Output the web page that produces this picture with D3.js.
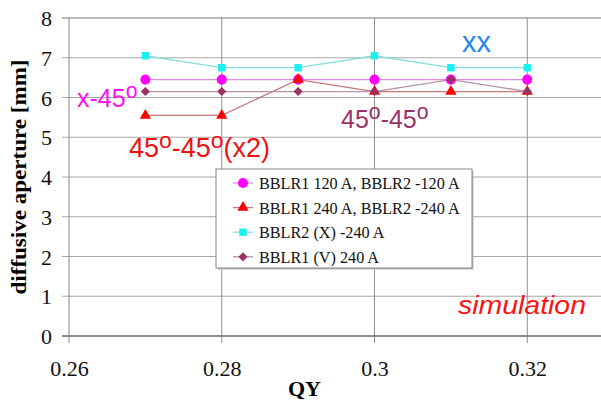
<!DOCTYPE html>
<html><head><meta charset="utf-8">
<script src="https://cdn.jsdelivr.net/npm/d3@7"></script>
<style>body{margin:0;background:#fff}svg{display:block}</style>
</head><body>
<svg id="c" width="601" height="403"></svg>
<script>
const qy = [0.27, 0.28, 0.29, 0.30, 0.31, 0.32];
const s120 = [6.45, 6.45, 6.45, 6.45, 6.45, 6.45];
const s240 = [5.55, 5.55, 6.45, 6.15, 6.15, 6.15];
const sX = [7.05, 6.75, 6.75, 7.05, 6.75, 6.75];
const sV = [6.15, 6.15, 6.15, 6.15, 6.45, 6.15];
const seriesNames = ["BBLR1 120 A, BBLR2 -120 A", "BBLR1 240 A, BBLR2 -240 A", "BBLR2 (X) -240 A", "BBLR1 (V) 240 A"];
const xTicks = [0.26, 0.28, 0.30, 0.32];
const xTickLabels = ["0.26", "0.28", "0.3", "0.32"];
const yTicks = [0, 1, 2, 3, 4, 5, 6, 7, 8];

const svg = d3.select("#c");
const x = d3.scaleLinear().domain([0.26, 0.34]).range([69, 680]);
const y = d3.scaleLinear().domain([0, 8]).range([336, 18]);

// grid
const g = svg.append("g");
g.selectAll(".hg").data(yTicks.filter(d => d > 0)).join("line")
  .attr("x1", 62).attr("x2", 601).attr("y1", d => y(d)).attr("y2", d => y(d))
  .attr("stroke", d => d === 8 ? "#777" : "#a8a8a8").attr("stroke-width", 1.2);
g.selectAll(".vg").data(xTicks).join("line")
  .attr("x1", d => x(d)).attr("x2", d => x(d)).attr("y1", 18).attr("y2", 343)
  .attr("stroke", d => d === 0.26 ? "#888" : "#909090").attr("stroke-width", 1);
g.append("line").attr("x1", 62).attr("x2", 601).attr("y1", y(0)).attr("y2", y(0))
  .attr("stroke", "#666").attr("stroke-width", 1.6);

// axes labels
const yAxis = d3.axisLeft(y).tickValues(yTicks).tickSize(0).tickPadding(17).tickFormat(d3.format("d"));
const ya = svg.append("g").attr("transform", "translate(69,0)").call(yAxis);
ya.attr("font-family", null).attr("font-size", null);
ya.select(".domain").remove();
ya.selectAll("text").style("font-family", "'Liberation Serif', serif").style("font-size", "22px").attr("fill", "#111").attr("dy", "0.35em");
const xAxis = d3.axisBottom(x).tickValues(xTicks).tickSize(0).tickPadding(24).tickFormat((d, i) => xTickLabels[i]);
const xa = svg.append("g").attr("transform", "translate(0,336)").call(xAxis);
xa.attr("font-family", null).attr("font-size", null);
xa.select(".domain").remove();
xa.selectAll("text").style("font-family", "'Liberation Serif', serif").style("font-size", "22px").attr("fill", "#111");

svg.append("text").attr("transform", "translate(26,177) rotate(-90)").attr("text-anchor", "middle")
  .style("font-family", "'Liberation Serif', serif").attr("font-weight", "bold").attr("font-size", 22)
  .attr("textLength", 235).attr("lengthAdjust", "spacingAndGlyphs")
  .text("diffusive aperture [mm]");
svg.append("text").attr("x", 288).attr("y", 396)
  .style("font-family", "'Liberation Serif', serif").attr("font-weight", "bold").attr("font-size", 22).text("QY");

// series
const diamond = {draw(ctx, size) { const r = Math.sqrt(size / 2); ctx.moveTo(0, -r); ctx.lineTo(r, 0); ctx.lineTo(0, r); ctx.lineTo(-r, 0); ctx.closePath(); }};
const series = [
  {v: s120, color: "#ff00ff", line: "#e08ae0", shape: d3.symbolCircle, size: 80},
  {v: s240, color: "#ff0000", line: "#c87878", shape: d3.symbolTriangle, size: 55},
  {v: sX, color: "#19f0f0", line: "#86dede", shape: d3.symbolSquare, size: 55},
  {v: sV, color: "#993366", line: "#b892a6", shape: diamond, size: 42}
];
const lineGen = d3.line().x((d, i) => x(qy[i])).y(d => y(d));
series.forEach(s => {
  svg.append("path").attr("d", lineGen(s.v)).attr("fill", "none").attr("stroke", s.line).attr("stroke-width", 1.3);
});
series.forEach(s => {
  svg.append("g").selectAll("path").data(s.v).join("path")
    .attr("transform", (d, i) => `translate(${x(qy[i])},${y(d)})`)
    .attr("d", d3.symbol().type(s.shape).size(s.size)).attr("fill", s.color);
});

// annotations
function deg(sel, parts, size) {
  parts.forEach(p => {
    if (p[1]) sel.append("tspan").attr("font-size", size * 0.85).attr("dy", -9).text("o");
    else sel.append("tspan").attr("dy", p[2] || 0).text(p[0]);
  });
}
const a1 = svg.append("text").attr("x", 77).attr("y", 107).attr("fill", "#ff11ee")
  .style("font-family", "'Liberation Sans', sans-serif").attr("font-size", 25);
deg(a1, [["x-45"], ["o", true]], 25);
const a2 = svg.append("text").attr("x", 129).attr("y", 157).attr("fill", "#ee1111")
  .style("font-family", "'Liberation Sans', sans-serif").attr("font-size", 27);
deg(a2, [["45"], ["o", true], ["-45", false, 9], ["o", true], ["(x2)", false, 9]], 27);
const a3 = svg.append("text").attr("x", 341).attr("y", 128).attr("fill", "#993366")
  .style("font-family", "'Liberation Sans', sans-serif").attr("font-size", 25);
deg(a3, [["45"], ["o", true], ["-45", false, 9], ["o", true]], 25);
svg.append("text").attr("x", 462).attr("y", 52).attr("fill", "#2288ee")
  .style("font-family", "'Liberation Sans', sans-serif").attr("font-size", 29).text("xx");
svg.append("text").attr("x", 458).attr("y", 314).attr("fill", "#ff1111")
  .style("font-family", "'Liberation Sans', sans-serif").attr("font-style", "italic").attr("font-size", 25)
  .attr("textLength", 128).attr("lengthAdjust", "spacingAndGlyphs").text("simulation");

// legend
const lg = svg.append("g").attr("transform", "translate(216,169)");
lg.append("rect").attr("x", 1.5).attr("y", 1.5).attr("width", 256).attr("height", 99).attr("fill", "#bbb");
lg.append("rect").attr("width", 256).attr("height", 99).attr("fill", "#fff").attr("stroke", "#888").attr("stroke-width", 1);
const rows = lg.selectAll("g.r").data(series).join("g").attr("transform", (d, i) => `translate(0,${14 + i * 24.6})`);
rows.append("line").attr("x1", 17).attr("x2", 37).attr("stroke", d => d.line).attr("stroke-width", 1.3);
rows.append("path").attr("transform", "translate(27,0)").attr("d", d => d3.symbol().type(d.shape).size(d.size)()).attr("fill", d => d.color);
rows.append("text").attr("x", 43).attr("y", 6).style("font-family", "'Liberation Serif', serif").attr("font-size", 16.2).attr("fill", "#111")
  .text((d, i) => seriesNames[i]);
</script>
</body></html>
